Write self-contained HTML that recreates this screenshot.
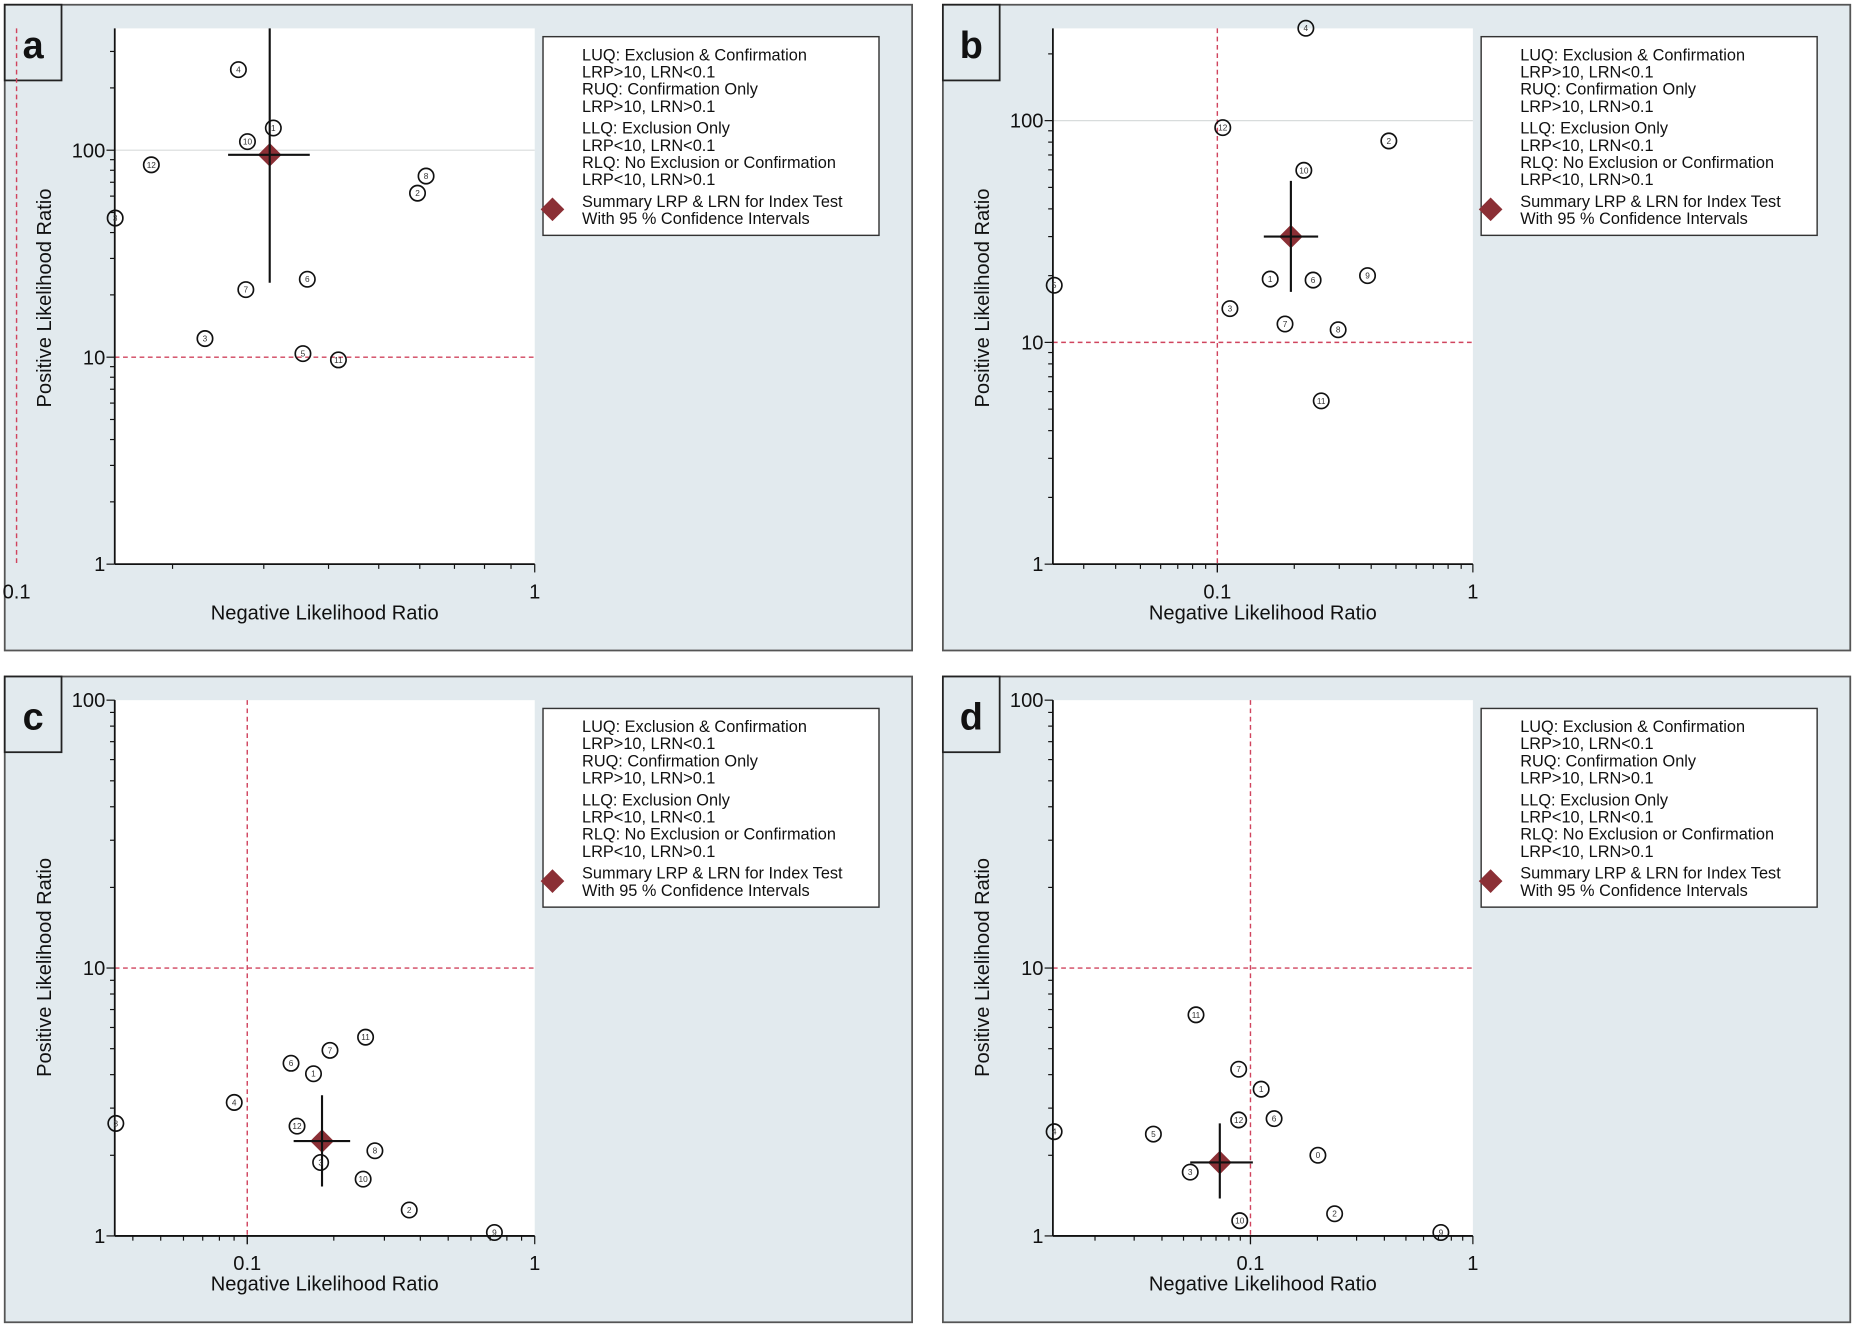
<!DOCTYPE html>
<html><head><meta charset="utf-8"><style>
html,body{margin:0;padding:0;background:#fff;}
svg{display:block;font-family:"Liberation Sans",sans-serif;}
</style></head><body>
<svg id="fig" width="1855" height="1327" viewBox="0 0 1568 1122" preserveAspectRatio="none" xmlns="http://www.w3.org/2000/svg"></svg>
<script>
// ---- data ----
const aLabels = ["4","1","10","12","8","2","3","7","6","3","5","11"];
const aNLR = [0.268,0.313,0.279,0.182,0.617,0.594,0.155,0.277,0.364,0.231,0.357,0.418];
const aPLR = [245,128,110,85,75,62,47,21.2,23.8,12.3,10.4,9.7];
const aSummary = [0.308,95];
const aCIx = [0.256,0.368];
const aCIy = [22.9,400];

const bLabels = ["4","12","2","10","5","1","6","9","3","7","8","11"];
const bNLR = [0.222,0.105,0.469,0.218,0.023,0.161,0.237,0.387,0.112,0.184,0.297,0.255];
const bPLR = [261,93,81,59.7,18.1,19.3,19.1,20.0,14.2,12.1,11.4,5.45];
const bSummary = [0.194,30];
const bCIx = [0.152,0.248];
const bCIy = [16.9,53.5];

const cLabels = ["11","7","6","1","4","3","12","8","3","10","2","9"];
const cNLR = [0.258,0.194,0.142,0.170,0.0901,0.0349,0.149,0.278,0.180,0.253,0.366,0.724];
const cPLR = [5.52,4.93,4.41,4.03,3.15,2.63,2.57,2.08,1.88,1.63,1.25,1.03];
const cSummary = [0.182,2.26];
const cCIx = [0.145,0.228];
const cCIy = [1.53,3.35];

const dLabels = ["11","7","1","12","6","4","5","0","3","2","10","9"];
const dNLR = [0.0569,0.0885,0.1117,0.0885,0.1277,0.0131,0.0366,0.201,0.0536,0.239,0.0895,0.718];
const dPLR = [6.69,4.19,3.53,2.71,2.74,2.45,2.40,2.0,1.73,1.21,1.14,1.03];
const dSummary = [0.0728,1.88];
const dCIx = [0.0536,0.1025];
const dCIy = [1.38,2.63];

const legendLines = ["LUQ: Exclusion & Confirmation","LRP>10, LRN<0.1","RUQ: Confirmation Only","LRP>10, LRN>0.1","LLQ: Exclusion Only","LRP<10, LRN<0.1","RLQ: No Exclusion or Confirmation","LRP<10, LRN>0.1","Summary LRP & LRN for Index Test","With 95 % Confidence Intervals"];

// ---- geometry ----
const NS="http://www.w3.org/2000/svg";
const svg=document.getElementById('fig');
function el(tag,attrs,parent,text){const e=document.createElementNS(NS,tag);for(const k in attrs)e.setAttribute(k,attrs[k]);if(text!==undefined)e.textContent=text;(parent||svg).appendChild(e);return e;}

const panels=[
 {id:'a',ox:4,oy:4,pl:97,pr:452,pt:24,pb:477,x01:14,xdec:438,y1:477,ydec:175,yTicks:[1,10,100],xTickLbl:[0.1,1],lbl:aLabels,nlr:aNLR,plr:aPLR,s:aSummary,cx:aCIx,cy:aCIy,gray:true,xlblY:500,xtitleY:518,ytc:252},
 {id:'b',ox:797,oy:4,pl:890,pr:1245,pt:24,pb:477,x01:1029,xdec:216,y1:477,ydec:187.5,yTicks:[1,10,100],xTickLbl:[0.1,1],lbl:bLabels,nlr:bNLR,plr:bPLR,s:bSummary,cx:bCIx,cy:bCIy,gray:true,xlblY:500,xtitleY:518,ytc:252},
 {id:'c',ox:4,oy:572,pl:97,pr:452,pt:592,pb:1045,x01:209,xdec:243,y1:1045,ydec:226.5,yTicks:[1,10,100],xTickLbl:[0.1,1],lbl:cLabels,nlr:cNLR,plr:cPLR,s:cSummary,cx:cCIx,cy:cCIy,gray:false,xlblY:1068,xtitleY:1085,ytc:818},
 {id:'d',ox:797,oy:572,pl:890,pr:1245,pt:592,pb:1045,x01:1057,xdec:188,y1:1045,ydec:226.5,yTicks:[1,10,100],xTickLbl:[0.1,1],lbl:dLabels,nlr:dNLR,plr:dPLR,s:dSummary,cx:dCIx,cy:dCIy,gray:false,xlblY:1068,xtitleY:1085,ytc:818}
];

panels.forEach(p=>{
 const X=v=>p.x01+(Math.log10(v)+1)*p.xdec;
 const Y=v=>p.y1-Math.log10(v)*p.ydec;
 const g=el('g',{});
 
 
 const bg=el('rect',{x:p.ox,y:p.oy,width:767,height:546,fill:'#e2eaee',stroke:'#555','stroke-width':1.5},g);
 
 
 const pa=el('rect',{x:p.pl,y:p.pt,width:p.pr-p.pl,height:p.pb-p.pt,fill:'#fff'},g);
 
 
 const lb=el('rect',{x:p.ox,y:p.oy,width:48,height:64,fill:'#e2eaee',stroke:'#222','stroke-width':1.5},g);
 
 
 const lt=el('text',{x:p.ox+24,y:p.oy+45,'text-anchor':'middle','font-size':32,'font-weight':'bold',fill:'#111'},g,p.id);
 
 
 if(p.gray){const gl=el('line',{x1:p.pl,x2:p.pr,y1:Y(100),y2:Y(100),stroke:'#d8dcdc','stroke-width':1},g);
  }
 const hr=el('line',{x1:p.pl,x2:p.pr,y1:Y(10),y2:Y(10),stroke:'#d0445e','stroke-width':1.2,'stroke-dasharray':'4,3'},g);
 
 const vr=el('line',{x1:X(0.1),x2:X(0.1),y1:p.pt,y2:p.pb,stroke:'#d0445e','stroke-width':1.2,'stroke-dasharray':'4,3'},g);
 
 const ya=el('line',{x1:p.pl,x2:p.pl,y1:p.pt,y2:p.pb,stroke:'#111','stroke-width':1.5},g);
 
 const xa=el('line',{x1:p.pl,x2:p.pr,y1:p.pb,y2:p.pb,stroke:'#111','stroke-width':1.5},g);
 
 [1,10,100].forEach(d=>{for(let m=1;m<10;m++){const v=d*m;const yy=Y(v);if(yy<p.pt-0.5||yy>p.pb+0.5)continue;
  el('line',{x1:p.pl-(m===1?7:4),x2:p.pl,y1:yy,y2:yy,stroke:'#111','stroke-width':1},g);}});
 p.yTicks.forEach(v=>{const t=el('text',{x:p.pl-8,y:Y(v)+6,'text-anchor':'end','font-size':17,fill:'#111'},g,String(v));
  });
 [0.01,0.1].forEach(d=>{for(let m=1;m<=10;m++){const v=d*m;const xx=X(v);if(xx<p.pl-0.5||xx>p.pr+0.5)continue;
  el('line',{x1:xx,x2:xx,y1:p.pb,y2:p.pb+((m===1||m===10)?7:4),stroke:'#111','stroke-width':1},g);}});
 p.xTickLbl.forEach(v=>{const t=el('text',{x:X(v),y:p.xlblY+6,'text-anchor':'middle','font-size':17,fill:'#111'},g,String(v));
  });
 const xt=el('text',{x:(p.pl+p.pr)/2,y:p.xtitleY+6,'text-anchor':'middle','font-size':17,fill:'#111'},g,'Negative Likelihood Ratio');
 
 const cyy=p.ytc;
 const yt=el('text',{x:p.ox+39,y:cyy,'text-anchor':'middle','font-size':17,fill:'#111',transform:`rotate(-90 ${p.ox+39} ${cyy})`},g,'Positive Likelihood Ratio');
 
 const sx=X(p.s[0]),sy=Y(p.s[1]);
 const d=el('path',{d:`M${sx} ${sy-10}L${sx+10} ${sy}L${sx} ${sy+10}L${sx-10} ${sy}Z`,fill:'#8b2f35'},g);
 
 const civ=el('line',{x1:sx,x2:sx,y1:Math.max(p.pt,Y(p.cy[1])),y2:Y(p.cy[0]),stroke:'#111','stroke-width':1.8},g);
 
 const cih=el('line',{x1:X(p.cx[0]),x2:X(p.cx[1]),y1:sy,y2:sy,stroke:'#111','stroke-width':1.8},g);
 
 p.nlr.forEach((v,i)=>{const px=X(v),py=Y(p.plr[i]);
  const pg=el('g',{},g);
  
  
  el('circle',{cx:px,cy:py,r:6.5,fill:'none',stroke:'#111','stroke-width':1.4},pg);
  el('text',{x:px,y:py+2.5,'text-anchor':'middle','font-size':7,fill:'#333'},pg,p.lbl[i]);
 });
 const lx=p.ox+455,ly=p.oy+27;
 const lg=el('g',{},g);
 
 el('rect',{x:lx,y:ly,width:284,height:168,fill:'#fff',stroke:'#333','stroke-width':1.2},lg);
 const ys=[15,29.5,44,58.5,77,91.5,106,120.5,139,153.5];
 legendLines.forEach((t,i)=>{const tx=el('text',{x:lx+33,y:ly+ys[i]+5,'font-size':13.8,fill:'#111'},lg,t);
  });
 el('path',{d:`M${lx+8} ${ly+136}L${lx+18} ${ly+146}L${lx+8} ${ly+156}L${lx-2} ${ly+146}Z`,fill:'#8b2f35'},lg);
});
</script>
</body></html>
